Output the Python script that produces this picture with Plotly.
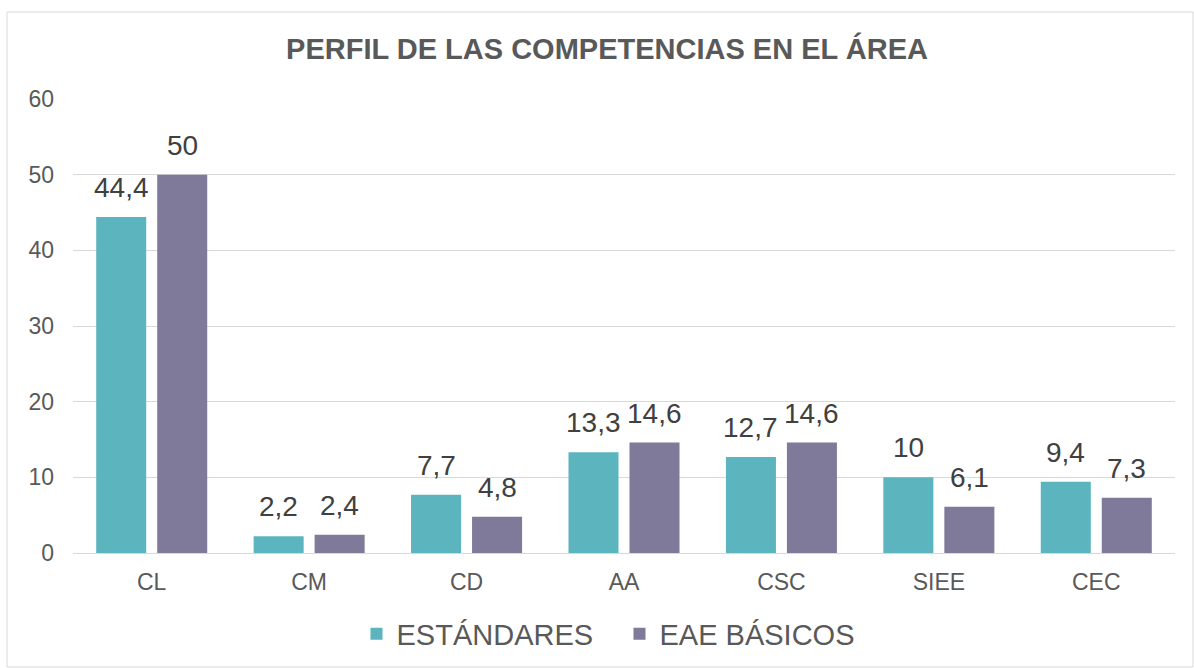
import plotly.graph_objects as go

categories = ["CL", "CM", "CD", "AA", "CSC", "SIEE", "CEC"]
estandares = [44.4, 2.2, 7.7, 13.3, 12.7, 10, 9.4]
eae_basicos = [50, 2.4, 4.8, 14.6, 14.6, 6.1, 7.3]
series_names = ["ESTÁNDARES", "EAE BÁSICOS"]
y_ticks = [0, 10, 20, 30, 40, 50, 60]

TEAL = "#5BB4BE"
PURPLE = "#7F7A99"
FONT = "Liberation Sans, Arial, sans-serif"

def fmt(v):
    return ("%g" % v).replace(".", ",")

fig = go.Figure()
fig.add_trace(go.Bar(x=categories, y=estandares, name=series_names[0],
                     marker=dict(color=TEAL, line=dict(width=0))))
fig.add_trace(go.Bar(x=categories, y=eae_basicos, name=series_names[1],
                     marker=dict(color=PURPLE, line=dict(width=0))))

annotations = []
for i, (a, b) in enumerate(zip(estandares, eae_basicos)):
    for val, off in ((a, -1), (b, 1)):
        annotations.append(dict(x=i, xshift=off * 30.5, y=val, xref="x", yref="y",
                                text=fmt(val), showarrow=False, yanchor="bottom",
                                yshift=12, font=dict(family=FONT, size=28, color="#404040")))

fig.update_layout(
    width=1194, height=668,
    paper_bgcolor="white", plot_bgcolor="white",
    margin=dict(l=73, r=19, t=99, b=115, autoexpand=False),
    title=dict(text="<b>PERFIL DE LAS COMPETENCIAS EN EL ÁREA</b>",
               x=607 / 1194, xanchor="center",
               y=1 - 49 / 668, yanchor="middle",
               font=dict(family=FONT, size=29, color="#595959")),
    barmode="group", bargap=0.225, bargroupgap=0.18,
    font=dict(family=FONT, color="#595959"),
    showlegend=True,
    legend=dict(orientation="h", x=(619.5 - 73) / 1102, xanchor="center",
                y=(553 - 634) / 454, yanchor="middle",
                font=dict(family=FONT, size=29, color="#595959"),
                itemwidth=30, tracegroupgap=0,
                entrywidth=218, entrywidthmode="pixels"),
    annotations=annotations,
    shapes=[dict(type="rect", xref="paper", yref="paper",
                 x0=(7 - 73) / 1102, x1=(1193 - 73) / 1102,
                 y0=(553 - 667) / 454, y1=(553 - 12) / 454,
                 line=dict(color="#D9D9D9", width=1), fillcolor="rgba(0,0,0,0)",
                 layer="below")],
)
fig.update_yaxes(range=[0, 60], tickvals=y_ticks, showgrid=True, gridcolor="#D9D9D9",
                 gridwidth=1, zeroline=True, zerolinecolor="#D9D9D9", zerolinewidth=1,
                 showline=False, ticks="", ticklabelstandoff=18, automargin=False,
                 tickfont=dict(family=FONT, size=23, color="#595959"))
fig.update_xaxes(showgrid=False, showline=True, linecolor="#D9D9D9", linewidth=1,
                 ticks="", ticklabelstandoff=8, automargin=False,
                 tickfont=dict(family=FONT, size=23, color="#595959"))

fig.write_html("out.html", config={"displayModeBar": False},
               post_script="document.body.style.margin='0';")
